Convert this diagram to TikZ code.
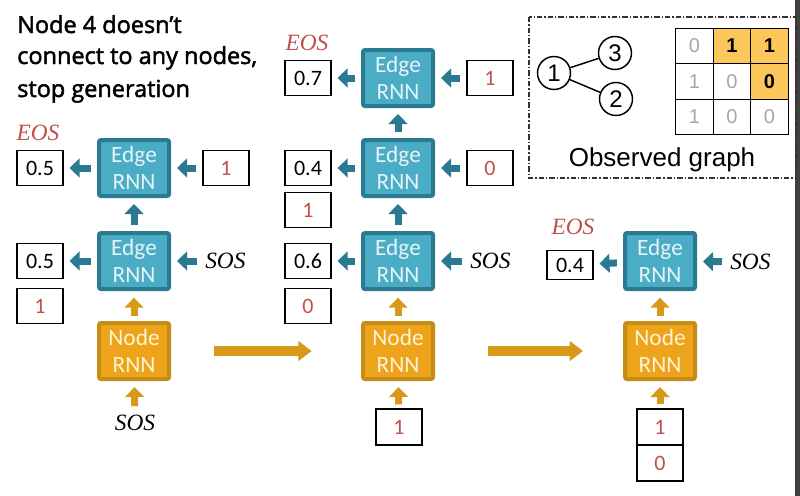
\documentclass[tikz,border=0pt]{standalone}
\usepackage{fontspec}
\setmainfont{Carlito}
\newfontfamily\titlefont{Open Sans}[FakeBold=2]
\newfontfamily\gfont{Liberation Sans}
\newfontfamily\tokfont{Liberation Serif}
\usetikzlibrary{arrows.meta}
\definecolor{edgefill}{HTML}{4BACC6}
\definecolor{edgedraw}{HTML}{2A7A92}
\definecolor{nodefill}{HTML}{EEA41A}
\definecolor{nodedraw}{HTML}{C68C18}
\definecolor{tealarr}{HTML}{2B7A91}
\definecolor{goldarr}{HTML}{D69A18}
\definecolor{redtxt}{HTML}{C0504D}
\definecolor{hl}{HTML}{FBC75A}
\definecolor{edgetxt}{HTML}{E6F4F8}
\definecolor{nodetxt}{HTML}{FFF3D6}
\definecolor{framec}{HTML}{333333}
\tikzset{
  edgebox/.style={draw=edgedraw, fill=edgefill, line width=3pt, rounded corners=1.5pt,
    minimum width=52.5pt, minimum height=42pt, inner sep=0pt, align=center,
    text=edgetxt, font=\fontsize{17.5}{20}\selectfont},
  nodebox/.style={edgebox, draw=nodedraw, fill=nodefill, text=nodetxt},
  valbox/.style={draw=black, line width=0.8pt, minimum width=34.5pt, minimum height=26.25pt,
    inner sep=0pt, font=\fontsize{16.5}{18}\selectfont},
  redval/.style={valbox, text=redtxt},
  tok/.style={inner sep=0pt, font=\tokfont\itshape\fontsize{17.5}{20}\selectfont},
  eos/.style={tok, text=redtxt},
  tarrow/.style={draw=tealarr, line width=5.25pt, -{Triangle[length=7.5pt,width=14pt]},
    shorten <=4.5pt, shorten >=4.5pt},
  garrow/.style={tarrow, draw=goldarr},
  bigarrow/.style={draw=goldarr, line width=7pt, -{Triangle[length=10pt,width=14.5pt]}},
  cell/.style={draw=black, line width=0.6pt, minimum width=28.1pt, minimum height=26.8pt,
    inner sep=0pt, font=\gfont\fontsize{15}{18}\selectfont, text=black!35},
  hlcell/.style={cell, fill=hl, text=black, font=\gfont\bfseries\fontsize{15}{18}\selectfont},
  gnode/.style={circle, draw=black, line width=1.1pt, minimum size=24.75pt, inner sep=0pt,
    font=\gfont\fontsize{18}{20}\selectfont},
  titletxt/.style={anchor=base west, inner sep=0pt, font=\titlefont\fontsize{17.6}{24}\selectfont}
}
\begin{document}
\begin{tikzpicture}[x=0.75pt, y=-0.75pt]
\useasboundingbox (0,0) rectangle (800,496);
\fill[white] (0,0) rectangle (800,496);
\fill[black!75] (795,0) rectangle (800,496);

% title
\node[titletxt] (t1) at (17,33) {Node 4 doesn’t};
\node[titletxt] (t2) at (17,64) {connect to any nodes,};
\node[titletxt] (t3) at (17,97) {stop generation};

% ---------- left column ----------
\node[edgebox] (eL1) at (134,168) {Edge\\RNN};
\node[edgebox] (eL2) at (134,261) {Edge\\RNN};
\node[nodebox] (nL) at (134,351) {Node\\RNN};
\node[valbox] (oL1) at (40,168) {0.5};
\node[redval] (iL1) at (226,168) {1};
\node[eos] (eosL) at (38,133) {EOS};
\node[valbox] (oL2) at (40,261) {0.5};
\node[redval] (oL2b) at (40,306) {1};
\node[tok, anchor=west] (sosL2) at (205,261) {SOS};
\node[tok] (sosL) at (135,423) {SOS};

\draw[tarrow] (eL1) -- (oL1);
\draw[tarrow] (iL1) -- (eL1);
\draw[tarrow] (eL2) -- (oL2);
\draw[tarrow, shorten <=6pt] (sosL2) -- (eL2);
\draw[tarrow] (eL2) -- (eL1);
\draw[garrow, shorten >=5pt, shorten <=4pt] (nL) -- (eL2);
\draw[garrow, shorten <=6.5pt] (sosL) -- (nL);

% ---------- middle column ----------
\node[edgebox] (eM1) at (398,78) {Edge\\RNN};
\node[edgebox] (eM2) at (398,168) {Edge\\RNN};
\node[edgebox] (eM3) at (398,261) {Edge\\RNN};
\node[nodebox] (nM) at (398,351) {Node\\RNN};
\node[valbox] (oM1) at (308,78) {0.7};
\node[redval] (iM1) at (490,78) {1};
\node[eos] (eosM) at (307,43) {EOS};
\node[valbox] (oM2) at (308,168) {0.4};
\node[redval] (iM2) at (490,168) {0};
\node[redval] (oM2b) at (308,210) {1};
\node[valbox] (oM3) at (308,261) {0.6};
\node[redval] (oM3b) at (308,306) {0};
\node[tok, anchor=west] (sosM3) at (470,261) {SOS};
\node[redval, minimum height=27pt] (inM) at (399,427) {1};

\draw[tarrow] (eM1) -- (oM1);
\draw[tarrow] (iM1) -- (eM1);
\draw[tarrow] (eM2) -- (oM2);
\draw[tarrow] (iM2) -- (eM2);
\draw[tarrow] (eM3) -- (oM3);
\draw[tarrow, shorten <=6pt] (sosM3) -- (eM3);
\draw[tarrow] (eM2) -- (eM1);
\draw[tarrow] (eM3) -- (eM2);
\draw[garrow, shorten >=5pt, shorten <=4pt] (nM) -- (eM3);
\draw[garrow, shorten <=3pt] (inM) -- (nM);

% ---------- right column ----------
\node[edgebox] (eR) at (660,261) {Edge\\RNN};
\node[nodebox] (nR) at (660,351) {Node\\RNN};
\node[valbox, minimum height=21.5pt] (oR) at (570,265) {0.4};
\node[eos] (eosR) at (573,227) {EOS};
\node[tok, anchor=west] (sosR) at (730,262) {SOS};
\node[redval, minimum height=27pt] (inR1) at (660,427) {1};
\node[redval, minimum height=27pt] (inR2) at (660,463) {0};

\draw[tarrow] (eR) -- (oR);
\draw[tarrow, shorten <=6pt] (sosR) -- (eR);
\draw[garrow, shorten >=5pt, shorten <=4pt] (nR) -- (eR);
\draw[garrow, shorten <=3pt] (inR1) -- (nR);

% ---------- big arrows ----------
\draw[bigarrow, shorten <=32pt, shorten >=37pt] (nL) -- (nM);
\draw[bigarrow, shorten <=40pt, shorten >=30pt] (nM) -- (nR);

% ---------- observed graph ----------
\draw[framec, line width=0.8pt, dash pattern=on 4pt off 1.5pt on 1pt off 1.5pt]
  (529,17) rectangle (796,178);
\node[gnode] (g1) at (554,73) {1};
\node[gnode] (g3) at (615,53) {3};
\node[gnode] (g2) at (616,99) {2};
\draw[line width=1.1pt] (g1) -- (g3);
\draw[line width=1.1pt] (g1) -- (g2);

\node[cell] (m11) at (694.5,46) {0};
\node[hlcell] (m12) at (732,46) {1};
\node[hlcell] (m13) at (769.5,46) {1};
\node[cell] (m21) at (694.5,81.5) {1};
\node[cell] (m22) at (732,81.5) {0};
\node[hlcell] (m23) at (769.5,81.5) {0};
\node[cell] (m31) at (694.5,117) {1};
\node[cell] (m32) at (732,117) {0};
\node[cell] (m33) at (769.5,117) {0};

\node[inner sep=0pt, font=\gfont\fontsize{19.5}{22}\selectfont] (obs) at (662,160) {Observed graph};
\end{tikzpicture}
\end{document}
